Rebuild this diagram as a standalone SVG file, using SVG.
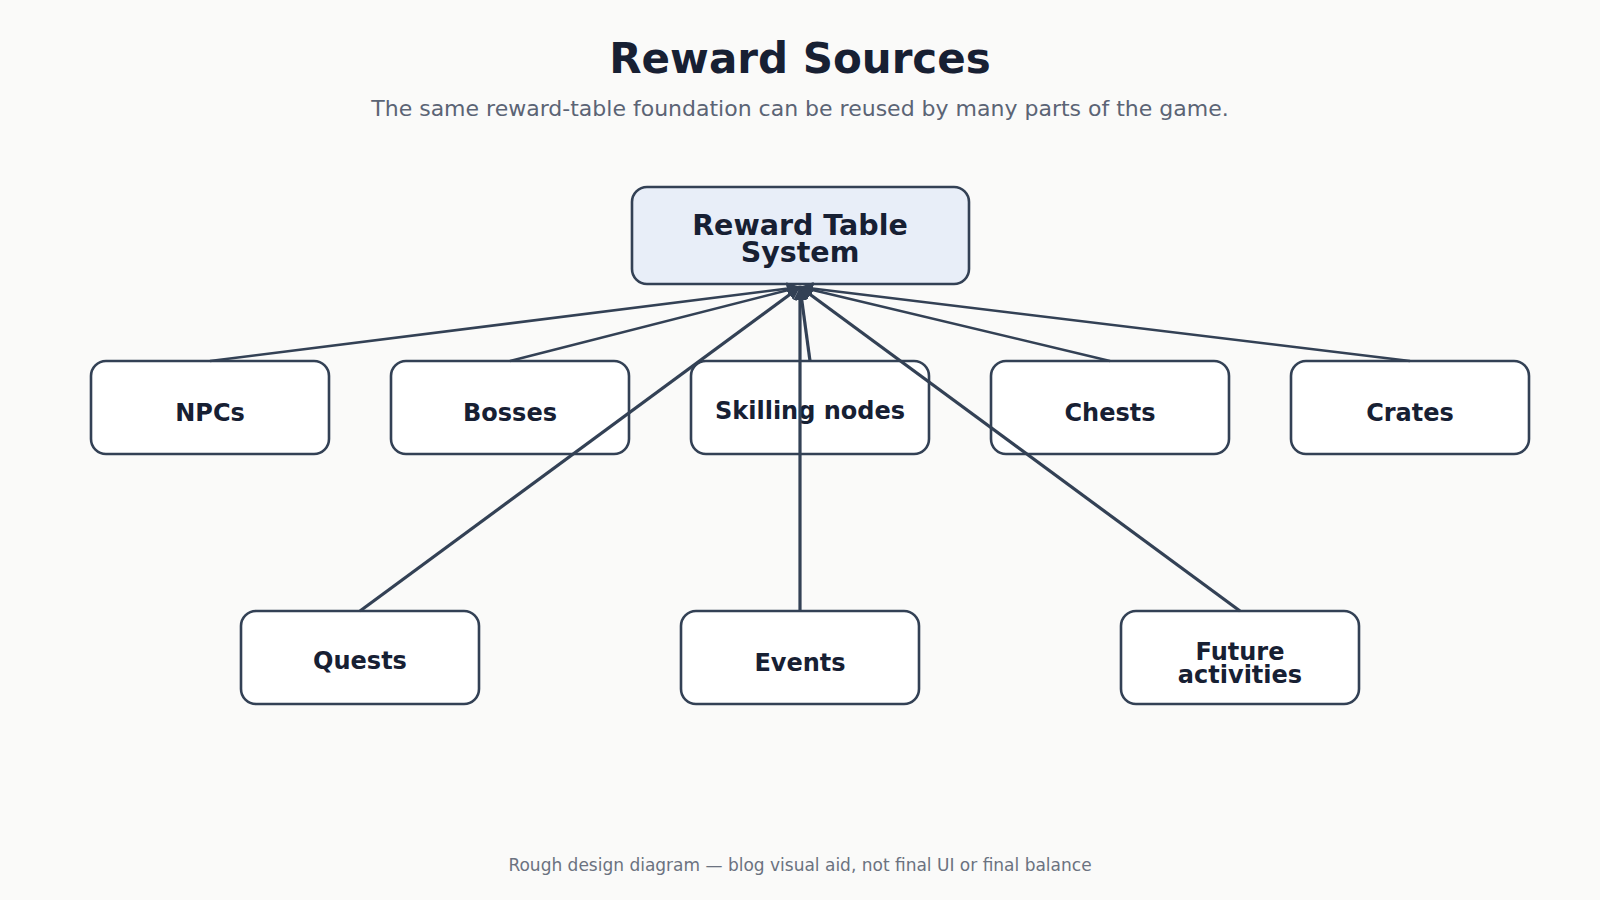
<svg xmlns="http://www.w3.org/2000/svg" width="1600" height="900" viewBox="0 0 1600 900">
<defs>
<style>
.bg{fill:#fafaf9}
.title{font-family:"DejaVu Sans",sans-serif;font-weight:bold;font-size:42px;fill:#172033;text-anchor:middle}
.sub{font-family:"DejaVu Sans",sans-serif;font-size:22px;fill:#5b6475;text-anchor:middle}
.foot{font-family:"DejaVu Sans",sans-serif;font-size:17px;fill:#6b7280;text-anchor:middle}
.box{fill:#ffffff;stroke:#334155;stroke-width:2.6}
.hub{fill:#e8eef8;stroke:#334155;stroke-width:2.6}
.lbl{font-family:"DejaVu Sans",sans-serif;font-weight:bold;font-size:24px;fill:#172033;text-anchor:middle}
.hlbl{font-family:"DejaVu Sans",sans-serif;font-weight:bold;font-size:28.5px;fill:#172033;text-anchor:middle}
.c1{stroke:#334155;stroke-width:2.5;fill:none}
.c2{stroke:#334155;stroke-width:3.2;fill:none}
</style>
<marker id="ah" viewBox="0 0 10 10" refX="10" refY="5" markerWidth="13" markerHeight="13" markerUnits="userSpaceOnUse" orient="auto">
<path d="M0,0 L10,5 L0,10 z" fill="#334155"/>
</marker>
</defs>
<rect class="bg" x="0" y="0" width="1600" height="900"/>
<text class="title" x="800" y="73">Reward Sources</text>
<text class="sub" x="800" y="116">The same reward-table foundation can be reused by many parts of the game.</text>

<g id="hub">
<rect class="hub" x="632" y="187" width="337" height="97" rx="15"/>
<text class="hlbl" x="800" y="235">Reward Table</text>
<text class="hlbl" x="800" y="262">System</text>
</g>

<g id="npcs"><rect class="box" x="91" y="361" width="238" height="93" rx="15"/><text class="lbl" x="210" y="421">NPCs</text></g>
<g id="bosses"><rect class="box" x="391" y="361" width="238" height="93" rx="15"/><text class="lbl" x="510" y="421">Bosses</text></g>
<g id="skilling"><rect class="box" x="691" y="361" width="238" height="93" rx="15"/><text class="lbl" x="810" y="419">Skilling nodes</text></g>
<g id="chests"><rect class="box" x="991" y="361" width="238" height="93" rx="15"/><text class="lbl" x="1110" y="421">Chests</text></g>
<g id="crates"><rect class="box" x="1291" y="361" width="238" height="93" rx="15"/><text class="lbl" x="1410" y="421">Crates</text></g>
<g id="quests"><rect class="box" x="241" y="611" width="238" height="93" rx="15"/><text class="lbl" x="360" y="669">Quests</text></g>
<g id="events"><rect class="box" x="681" y="611" width="238" height="93" rx="15"/><text class="lbl" x="800" y="671">Events</text></g>
<g id="future"><rect class="box" x="1121" y="611" width="238" height="93" rx="15"/><text class="lbl" x="1240" y="660">Future</text><text class="lbl" x="1240" y="683">activities</text></g>

<g id="connectors">
<line class="c1" x1="210" y1="361" x2="800" y2="287" marker-end="url(#ah)"/>
<line class="c1" x1="510" y1="361" x2="800" y2="287" marker-end="url(#ah)"/>
<line class="c2" x1="810" y1="361" x2="800" y2="287" marker-end="url(#ah)"/>
<line class="c1" x1="1110" y1="361" x2="800" y2="287" marker-end="url(#ah)"/>
<line class="c1" x1="1410" y1="361" x2="800" y2="287" marker-end="url(#ah)"/>
<line class="c2" x1="360" y1="611" x2="800" y2="287" marker-end="url(#ah)"/>
<line class="c2" x1="800" y1="611" x2="800" y2="287" marker-end="url(#ah)"/>
<line class="c2" x1="1240" y1="611" x2="800" y2="287" marker-end="url(#ah)"/>
</g>

<text class="foot" x="800" y="871">Rough design diagram — blog visual aid, not final UI or final balance</text>
</svg>
